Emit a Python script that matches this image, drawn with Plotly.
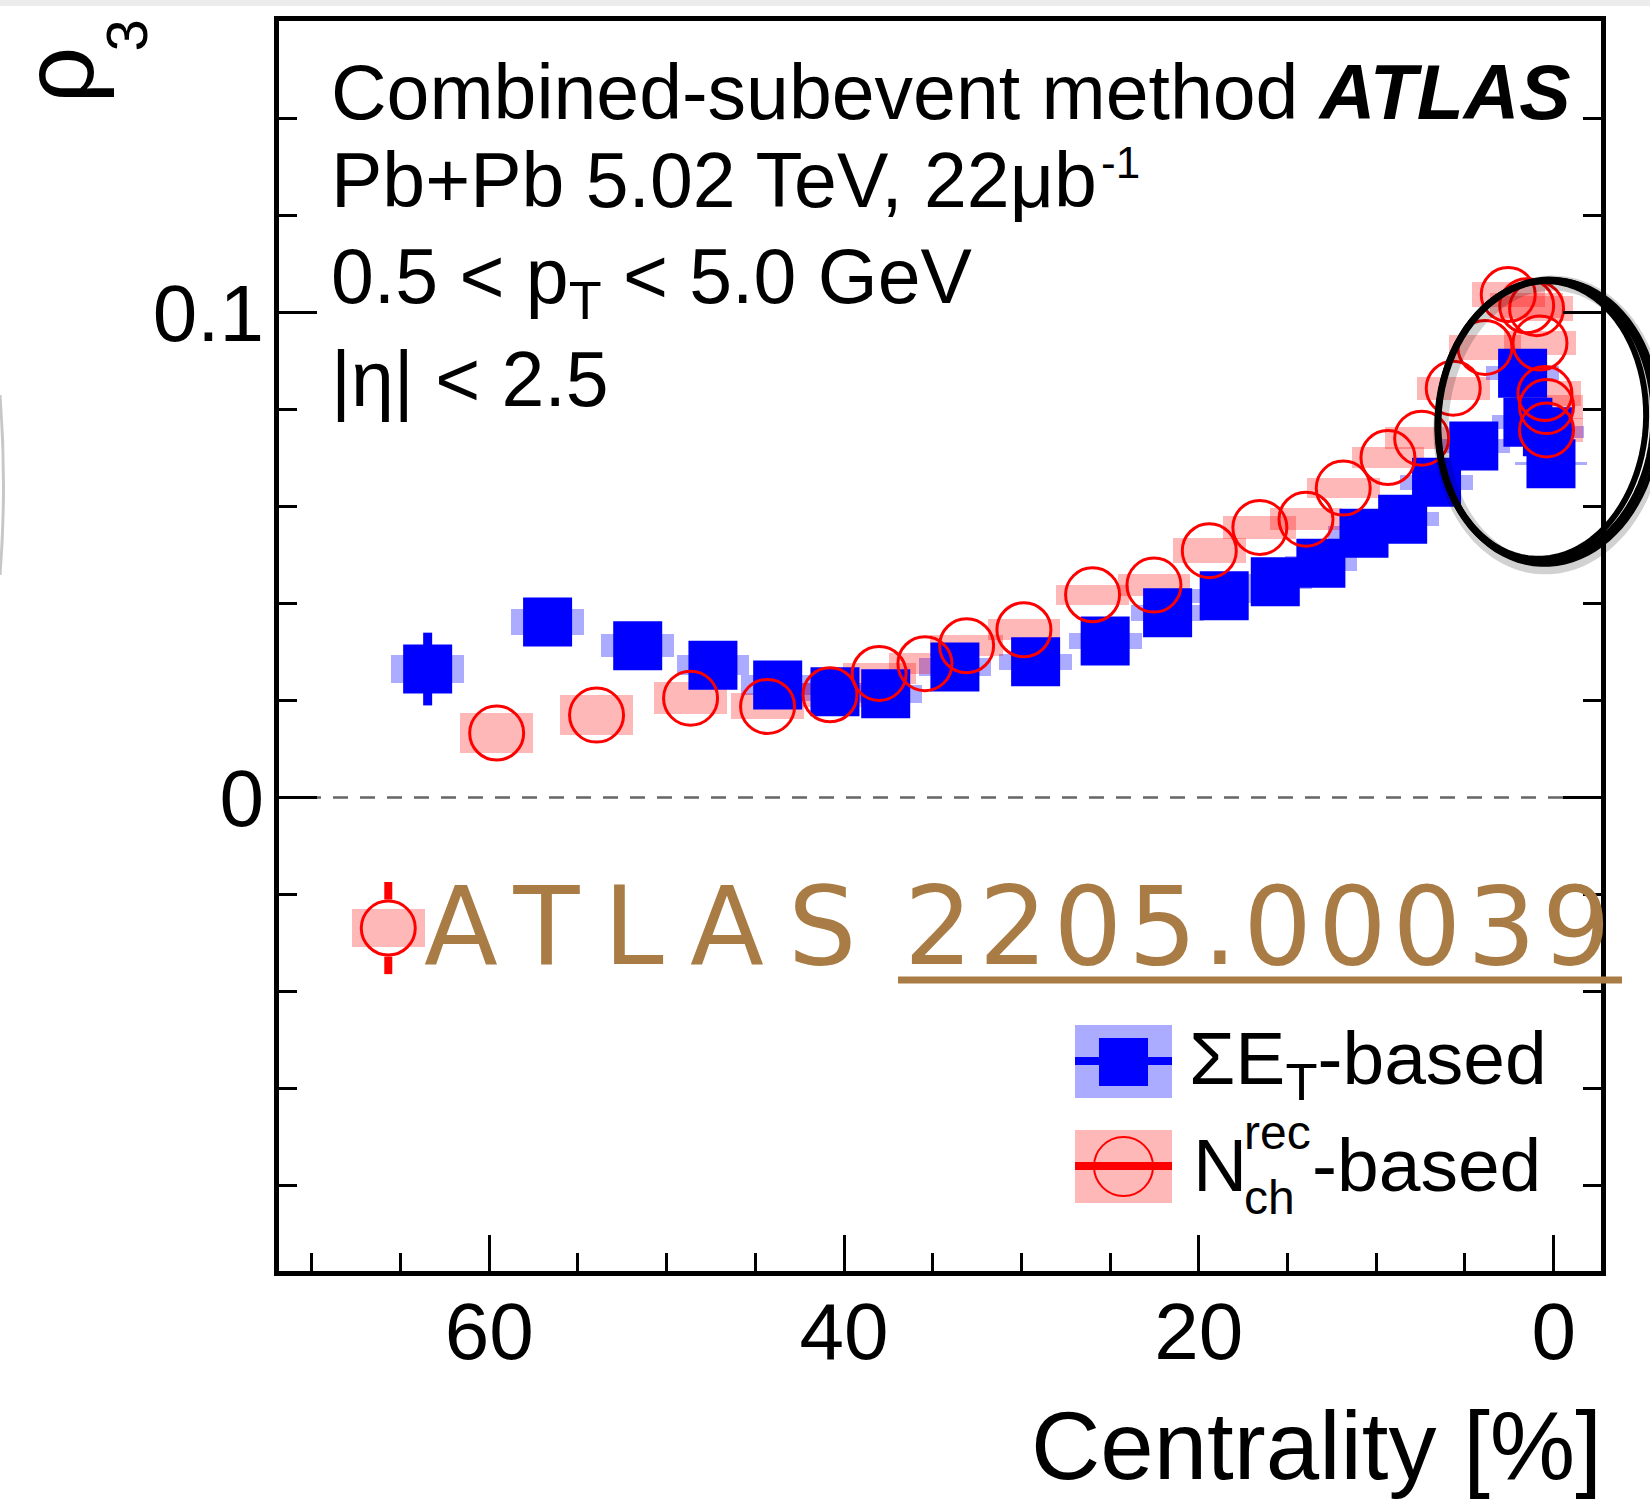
import numpy as np
import plotly.graph_objects as go

# ---- rho_3 vs centrality, Pb+Pb 5.02 TeV (combined-subevent method) ----
# Sum-E_T based centrality
cent_et = [63.47, 56.71, 51.63, 47.39, 43.74, 40.51, 37.65, 33.75, 29.20, 25.28, 21.76,
           18.57, 15.69, 13.12, 10.69, 8.51, 6.60, 4.50, 1.75, 1.45, 0.35, 0.15]
rho3_et = [0.0265, 0.0362, 0.0313, 0.0273, 0.0232, 0.0218, 0.0214, 0.0269, 0.0280, 0.0323,
           0.0381, 0.0416, 0.0445, 0.0483, 0.0545, 0.0574, 0.0650, 0.0725, 0.0875, 0.0774,
           0.0754, 0.0688]
stat_et = [0.0075, 0.0040, 0.0035, 0.0030, 0.0025, 0.0022, 0.0020, 0.0020, 0.0018, 0.0018,
           0.0016, 0.0016, 0.0015, 0.0015, 0.0015, 0.0016, 0.0018, 0.0020, 0.0025, 0.0025,
           0.0030, 0.0030]
syst_et = [0.0029, 0.0026, 0.0024, 0.0021, 0.0020, 0.0019, 0.0018, 0.0018, 0.0016, 0.0016,
           0.0016, 0.0015, 0.0015, 0.0015, 0.0015, 0.0015, 0.0015, 0.0014, 0.0014, 0.0014,
           0.0013, 0.0003]

# N_ch^rec based centrality
cent_nch = [65.69, 59.58, 53.95, 48.65, 44.31, 40.79, 38.02, 35.44, 33.09, 29.86, 25.99,
            22.53, 19.41, 16.56, 13.96, 11.86, 9.34, 7.44, 5.66, 3.87, 2.56, 1.52, 0.96,
            0.77, 0.49, 0.40, 0.40]
rho3_nch = [-0.0269, 0.0133, 0.0170, 0.0205, 0.0188, 0.0212, 0.0256, 0.0276, 0.0313, 0.0346,
            0.0418, 0.0438, 0.0509, 0.0557, 0.0574, 0.0638, 0.0701, 0.0741, 0.0844, 0.0928,
            0.1037, 0.1014, 0.1008, 0.0937, 0.0833, 0.0806, 0.0758]
stat_nch = [0.0095, 0.0045, 0.0035, 0.0030, 0.0025, 0.0022, 0.0020, 0.0020, 0.0018, 0.0018,
            0.0016, 0.0016, 0.0015, 0.0015, 0.0015, 0.0016, 0.0018, 0.0020, 0.0022, 0.0025,
            0.0030, 0.0030, 0.0032, 0.0032, 0.0035, 0.0035, 0.0035]
syst_nch = [0.0039, 0.0041, 0.0041, 0.0033, 0.0027, 0.0025, 0.0022, 0.0022, 0.0022, 0.0022,
            0.0021, 0.0022, 0.0026, 0.0024, 0.0023, 0.0021, 0.0022, 0.0023, 0.0024, 0.0025,
            0.0026, 0.0026, 0.0026, 0.0025, 0.0025, 0.0025, 0.0025]

x_ticks = [60, 40, 20, 0]
y_ticks = [0, 0.1]
y_tick_text = ["0", "0.1"]
x_range = [71.85, -2.67]
y_range = [-0.0976, 0.1601]
syst_width = 4.1

# ---- page geometry (pixels) ----
WIDTH, HEIGHT = 1650, 1499
L, R, T, B = 279, 1601, 21, 1271
W, H = R - L, B - T

BLUE = "#0000ff"
RED = "#ff0000"
BLUE_BOX = "rgba(0,0,255,0.33)"
RED_BOX = "rgba(255,0,0,0.28)"
INK = "#a97c45"
FONT = "Liberation Sans, Arial, Helvetica, sans-serif"


def px(xp):
    return (xp - L) / W


def py(yp):
    return (B - yp) / H


fig = go.Figure()

# systematic-uncertainty boxes
fig.add_trace(go.Bar(
    x=cent_et, y=[2 * s for s in syst_et], base=[v - s for v, s in zip(rho3_et, syst_et)],
    width=syst_width, marker=dict(color=BLUE_BOX, line=dict(width=0)),
    showlegend=False, hoverinfo="skip"))
fig.add_trace(go.Bar(
    x=cent_nch, y=[2 * s for s in syst_nch], base=[v - s for v, s in zip(rho3_nch, syst_nch)],
    width=syst_width, marker=dict(color=RED_BOX, line=dict(width=0)),
    showlegend=False, hoverinfo="skip"))

# sum-E_T points with statistical error bars
fig.add_trace(go.Scatter(
    x=cent_et, y=rho3_et, mode="markers",
    marker=dict(symbol="square", size=49, color=BLUE, line=dict(width=0)),
    error_y=dict(type="data", array=stat_et, color=BLUE, thickness=9, width=0),
    showlegend=False))

# N_ch error bars are drawn only outside the open marker
y_per_px = (y_range[1] - y_range[0]) / H
marker_half = 28.5 * y_per_px
seg_x, seg_y = [], []
for c, v, e in zip(cent_nch, rho3_nch, stat_nch):
    if e > marker_half:
        seg_x += [c, c, None, c, c, None]
        seg_y += [v + marker_half, v + e, None, v - marker_half, v - e, None]
fig.add_trace(go.Scatter(x=seg_x, y=seg_y, mode="lines",
                         line=dict(color=RED, width=8), showlegend=False, hoverinfo="skip"))

fig.add_trace(go.Scatter(
    x=cent_nch, y=rho3_nch, mode="markers",
    marker=dict(symbol="circle-open", size=54, color=RED, line=dict(width=3)),
    showlegend=False))

shapes = []
# dashed zero line
shapes.append(dict(type="line", xref="paper", yref="y", x0=0, x1=1, y0=0, y1=0,
                   line=dict(color="#666666", width=2.5, dash="15px,12px"), layer="below"))

# light strip along the top edge of the page
shapes.append(dict(type="rect", xref="paper", yref="paper", x0=px(0), x1=px(WIDTH),
                   y0=py(6), y1=py(0), fillcolor="#ececec", line=dict(width=0)))

# legend glyphs
shapes += [
    dict(type="rect", xref="paper", yref="paper", x0=px(1075), x1=px(1172), y0=py(1098), y1=py(1025),
         fillcolor=BLUE_BOX, line=dict(width=0)),
    dict(type="line", xref="paper", yref="paper", x0=px(1075), x1=px(1172), y0=py(1061), y1=py(1061),
         line=dict(color=BLUE, width=8)),
    dict(type="rect", xref="paper", yref="paper", x0=px(1099), x1=px(1148), y0=py(1086), y1=py(1038),
         fillcolor=BLUE, line=dict(width=0)),
    dict(type="rect", xref="paper", yref="paper", x0=px(1075), x1=px(1172), y0=py(1203), y1=py(1130),
         fillcolor=RED_BOX, line=dict(width=0)),
    dict(type="line", xref="paper", yref="paper", x0=px(1075), x1=px(1172), y0=py(1166), y1=py(1166),
         line=dict(color=RED, width=8)),
    dict(type="circle", xref="paper", yref="paper", x0=px(1094), x1=px(1153), y0=py(1196), y1=py(1137),
         line=dict(color=RED, width=2)),
]


def ellipse_path(cx, cy, rx, ry, tilt_deg, n=90):
    a = np.radians(tilt_deg)
    t = np.linspace(0, 2 * np.pi, n)
    ex, ey = rx * np.cos(t), ry * np.sin(t)
    xs = cx + ex * np.cos(a) - ey * np.sin(a)
    ys = cy + ex * np.sin(a) + ey * np.cos(a)
    pts = [f"{px(x):.5f},{py(y):.5f}" for x, y in zip(xs, ys)]
    return "M" + " L".join(pts) + " Z"


# hand-drawn ring around the most central points
shapes.append(dict(type="path", xref="paper", yref="paper",
                   path=ellipse_path(1549, 425, 108, 142, 3.5),
                   line=dict(color="rgba(0,0,0,0.18)", width=15)))
for cx, cy, rx, ry, w in [(1546, 421, 108, 141, 7), (1542, 420, 104, 139, 6), (1548, 422, 111, 143, 4)]:
    shapes.append(dict(type="path", xref="paper", yref="paper",
                       path=ellipse_path(cx, cy, rx, ry, 3.5), line=dict(color="black", width=w)))

# faint stroke at the left page edge
shapes.append(dict(type="path", xref="paper", yref="paper",
                   path=f"M{px(0)},{py(395)} Q{px(7)},{py(485)} {px(0)},{py(575)}",
                   line=dict(color="rgba(0,0,0,0.22)", width=3)))

# handwritten underline
shapes.append(dict(type="line", xref="paper", yref="paper", x0=px(898), x1=px(1622),
                   y0=py(980), y1=py(980), line=dict(color=INK, width=7)))

annotations = []


def note(text, x, y, size, xanchor="left", yanchor="top", color="black", family=FONT, angle=0):
    annotations.append(dict(text=text, x=px(x), y=py(y), xref="paper", yref="paper",
                            xanchor=xanchor, yanchor=yanchor, showarrow=False, textangle=angle,
                            font=dict(family=family, size=size, color=color), borderpad=0))


# plot labels
note("Combined-subevent method <b><i>ATLAS</i></b>", 330, 48, 77)
note("Pb+Pb 5.02 TeV, 22μb", 330, 224, 77, yanchor="bottom")
note("-1", 1100, 137, 44)
note("0.5 < p<sub>T</sub> < 5.0 GeV", 330, 232, 77)
note("|η| < 2.5", 330, 335, 77)

# legend text
note("ΣE<sub>T</sub>-based", 1188, 1015, 75)
note("N", 1192, 1122, 75)
note("rec", 1243, 1105, 48)
note("ch", 1243, 1170, 48)
note("-based", 1311, 1122, 75)

# axis titles
note("Centrality [%]", 1603, 1391, 96, xanchor="right")
note("ρ", 0, 46, 100, xanchor="left", yanchor="top", angle=-90)
note("3", 93, 19, 58, xanchor="left", yanchor="top", angle=-90)

# handwritten reference
note('<span style="letter-spacing:24px">ATLAS</span>', 652, 990, 108,
     xanchor="center", yanchor="bottom", color=INK, family="DejaVu Sans")
note('<span style="letter-spacing:6px">2205.00039</span>', 1260, 990, 108,
     xanchor="center", yanchor="bottom", color=INK, family="DejaVu Sans")

axis_common = dict(showgrid=False, zeroline=False, showline=True, linecolor="black", linewidth=5,
                   ticks="inside", tickwidth=3, tickcolor="black",
                   tickfont=dict(family=FONT, size=80, color="black"))

fig.update_layout(
    width=WIDTH, height=HEIGHT,
    margin=dict(l=L, r=WIDTH - R, t=T, b=HEIGHT - B, pad=0),
    paper_bgcolor="white", plot_bgcolor="white",
    barmode="overlay", bargap=0,
    xaxis=dict(range=x_range, tickmode="array", tickvals=x_ticks, ticklen=36, mirror=True,
               ticklabelstandoff=-13,
               minor=dict(dtick=5, tick0=0, ticks="inside", ticklen=18, tickwidth=3, tickcolor="black"),
               **axis_common),
    yaxis=dict(range=y_range, tickmode="array", tickvals=y_ticks, ticktext=y_tick_text, ticklen=38,
               mirror="ticks", ticklabelstandoff=-6,
               minor=dict(dtick=0.02, tick0=0, ticks="inside", ticklen=18, tickwidth=3, tickcolor="black"),
               **axis_common),
    shapes=shapes, annotations=annotations, showlegend=False,
)

fig.write_html("out.html")
